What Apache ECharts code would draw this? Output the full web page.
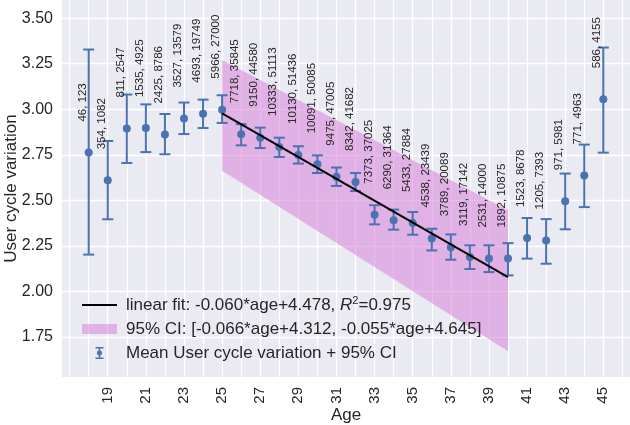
<!DOCTYPE html>
<html><head><meta charset="utf-8">
<script src="https://cdn.jsdelivr.net/npm/echarts@6/dist/echarts.min.js"></script>
<style>html,body{margin:0;padding:0;background:#fff}#c{width:630px;height:425px}</style>
</head><body><div id="c"></div>
<script>
// ---- data ----
const ages = [18,19,20,21,22,23,24,25,26,27,28,29,30,31,32,33,34,35,36,37,38,39,40,41,42,43,44,45];
const meanVar = [2.762,2.610,2.894,2.897,2.861,2.949,2.976,2.998,2.863,2.844,2.793,2.749,2.698,2.630,2.601,2.421,2.390,2.375,2.290,2.243,2.189,2.180,2.180,2.293,2.280,2.495,2.637,3.055];
const ciUpper = [3.328,2.826,3.081,3.027,2.974,3.037,3.053,3.077,2.918,2.899,2.844,2.797,2.747,2.680,2.650,2.473,2.449,2.436,2.344,2.313,2.253,2.253,2.265,2.403,2.397,2.647,2.806,3.339];
const ciLower = [2.202,2.396,2.705,2.765,2.753,2.864,2.897,2.925,2.802,2.787,2.738,2.702,2.650,2.579,2.551,2.368,2.339,2.311,2.225,2.174,2.123,2.106,2.088,2.180,2.152,2.341,2.463,2.762];
const nUsers = [46,354,811,1535,2425,3527,4693,5966,7718,9150,10333,10130,10091,9475,8342,7373,6290,5433,4538,3789,3119,2531,1892,1523,1205,971,771,586];
const nCycles = [123,1082,2547,4925,8786,13579,19749,27000,35845,44580,51113,51436,50085,47005,41682,37025,31364,27884,23439,20089,17142,14000,10875,8678,7393,5981,4963,4155];
const fitLine = [[25,2.978],[40,2.078]];
const bandUpper = [[25,3.270],[40,2.445]];
const bandLower = [[25,2.662],[40,1.672]];
const xGridTicks = [17,18,19,20,21,22,23,24,25,26,27,28,29,30,31,32,33,34,35,36,37,38,39,40,41,42,43,44,45,46];
const xTickLabels = [19,21,23,25,27,29,31,33,35,37,39,41,43,45];
const yTickLabels = [1.75,2.00,2.25,2.50,2.75,3.00,3.25,3.50];

const FIT_NAME = 'linear fit: -0.060*age+4.478, R^2=0.975';
const CI_NAME = '95% CI: [-0.066*age+4.312, -0.055*age+4.645]';
const ERR_NAME = 'Mean User cycle variation + 95% CI';
const FONT = 'Liberation Sans, Arial, sans-serif';
const BLUE = '#4C72B0';
const BAND = 'rgba(214,120,214,0.5)';
const TXT = '#262626';

const chart = echarts.init(document.getElementById('c'), null, {renderer:'canvas'});
chart.setOption({
  animation:false,
  backgroundColor:'#ffffff',
  textStyle:{fontFamily:FONT},
  grid:{left:62, right:0, top:0, bottom:48, show:true, backgroundColor:'#EAEAF2', borderWidth:0,
    containLabel:false, outerBoundsMode:'none'},
  xAxis:{
    type:'value', min:16.6, max:46.4,
    name:'Age', nameLocation:'middle', nameGap:30, nameMoveOverlap:false,
    nameTextStyle:{fontSize:17, color:TXT, fontFamily:FONT},
    axisLine:{show:false},
    axisTick:{show:false, customValues:xGridTicks},
    axisLabel:{customValues:xTickLabels, rotate:90, margin:10, fontSize:15, color:TXT, fontFamily:FONT},
    splitLine:{show:true, lineStyle:{color:'#ffffff', width:1.3}}
  },
  yAxis:{
    type:'value', min:1.53, max:3.6,
    name:'User cycle variation', nameLocation:'middle', nameGap:42, nameMoveOverlap:false,
    nameTextStyle:{fontSize:17, color:TXT, fontFamily:FONT},
    axisLine:{show:false},
    axisTick:{show:false, customValues:yTickLabels},
    axisLabel:{customValues:yTickLabels, margin:9, fontSize:16, color:TXT, fontFamily:FONT,
      formatter:v=>Number(v).toFixed(2)},
    splitLine:{show:true, lineStyle:{color:'#ffffff', width:1.3}}
  },
  legend:{
    orient:'vertical', left:77, top:290, itemWidth:35, itemHeight:12, itemGap:7,
    selectedMode:false,
    textStyle:{fontSize:17, color:TXT, fontFamily:FONT, padding:[0,0,0,4],
      rich:{
        n:{fontSize:17, color:TXT, fontFamily:FONT},
        i:{fontSize:17, color:TXT, fontFamily:FONT, fontStyle:'italic'},
        s:{fontSize:11, color:TXT, fontFamily:FONT, verticalAlign:'top', padding:[0,0,9,0]}
      }},
    formatter:function(name){
      if(name===FIT_NAME) return '{n|linear fit: -0.060*age+4.478, }{i|R}{s|2}{n|=0.975}';
      return name;
    },
    data:[
      {name:FIT_NAME, icon:'path://M0,0 H35 V2 H0 Z'},
      {name:CI_NAME, icon:'path://M0,0 H35 V10 H0 Z'},
      {name:ERR_NAME, icon:'path://M0,0 H8 V1.5 H4.75 V10.5 H8 V12 H0 V10.5 H3.25 V1.5 H0 Z M4,3.3 L5.9,4.1 L6.7,6 L5.9,7.9 L4,8.7 L2.1,7.9 L1.3,6 L2.1,4.1 Z'}
    ]
  },
  series:[
    {
      name:CI_NAME, type:'custom', clip:true,
      itemStyle:{color:BAND},
      data:[[bandUpper[0][0], bandUpper[0][1]]],
      renderItem:function(params, api){
        const pts = [bandUpper[0], bandUpper[1], bandLower[1], bandLower[0]].map(p=>api.coord(p));
        return {type:'polygon', shape:{points:pts}, style:{fill:BAND}};
      }
    },
    {
      name:FIT_NAME, type:'line', data:fitLine, symbol:'none',
      itemStyle:{color:'#000000'},
      lineStyle:{color:'#000000', width:2}
    },
    {
      name:ERR_NAME, type:'custom',
      itemStyle:{color:BLUE},
      encode:{x:0, y:[1,2,3]},
      data:ages.map((a,i)=>[a, ciLower[i], ciUpper[i], meanVar[i]]),
      renderItem:function(params, api){
        const x = api.value(0);
        const lo = api.coord([x, api.value(1)]);
        const hi = api.coord([x, api.value(2)]);
        const m = api.coord([x, api.value(3)]);
        const hw = 5.5;
        const ls = {stroke:BLUE, lineWidth:2};
        return {type:'group', children:[
          {type:'line', shape:{x1:hi[0], y1:hi[1], x2:lo[0], y2:lo[1]}, style:ls},
          {type:'line', shape:{x1:hi[0]-hw, y1:hi[1], x2:hi[0]+hw, y2:hi[1]}, style:ls},
          {type:'line', shape:{x1:lo[0]-hw, y1:lo[1], x2:lo[0]+hw, y2:lo[1]}, style:ls},
          {type:'circle', shape:{cx:m[0], cy:m[1], r:4}, style:{fill:BLUE}}
        ]};
      }
    },
    {
      name:'counts', type:'custom', silent:true,
      data:ages.map((a,i)=>[a, meanVar[i], nUsers[i]+', '+nCycles[i]]),
      renderItem:function(params, api){
        const p = api.coord([api.value(0), api.value(1)]);
        return {type:'text', x:p[0]-6, y:p[1]-31, rotation:Math.PI/2,
          style:{text:String(api.value(2)), fill:TXT, fontSize:11.5, fontFamily:FONT,
            align:'left', verticalAlign:'middle'}};
      }
    }
  ]
});
</script>
</body></html>
